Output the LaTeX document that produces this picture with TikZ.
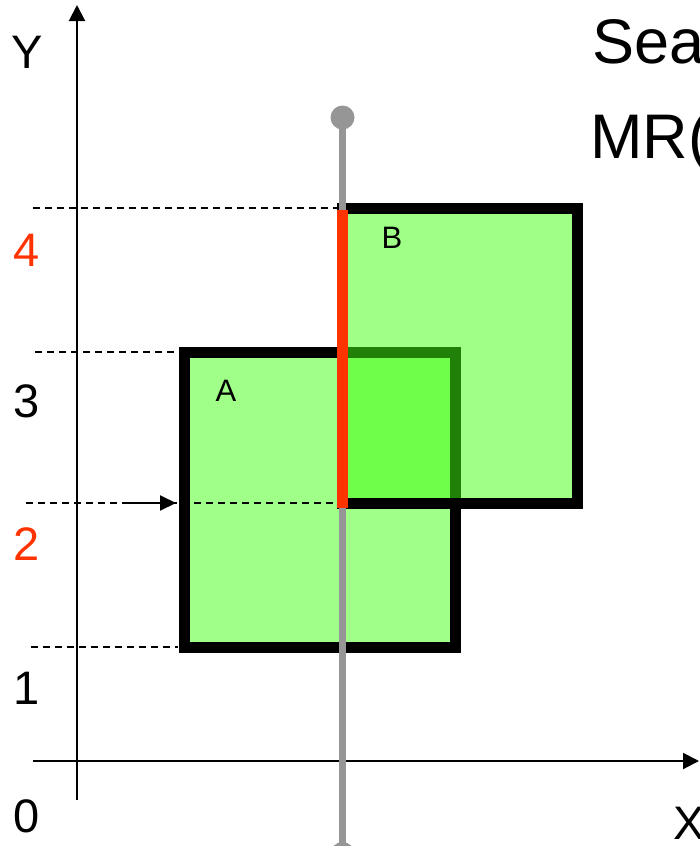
\documentclass[tikz,border=0pt]{standalone}
\usepackage{fontspec}
\setmainfont{Liberation Sans}
\usetikzlibrary{arrows.meta,positioning}
\definecolor{ink}{HTML}{000000}
\definecolor{hit}{HTML}{FF3300}
\definecolor{probe}{HTML}{969696}
\definecolor{rectfill}{HTML}{A0FF88}
\definecolor{overfill}{HTML}{40FF10}
\tikzset{
  axisline/.style={-{Triangle[length=16pt,width=16pt]},line width=2pt,draw=ink},
  guide/.style={dash pattern=on 7pt off 5pt,line width=1.8pt,draw=ink},
  mbr/.style={line width=11pt,draw=ink},
  ticklabel/.style={inner sep=0pt,font=\fontsize{47pt}{47pt}\selectfont},
  rectlabel/.style={inner sep=0pt,font=\fontsize{31pt}{31pt}\selectfont},
  headline/.style={inner sep=0pt,anchor=base west,font=\fontsize{63pt}{63pt}\selectfont}
}
\begin{document}
\begin{tikzpicture}[x=1pt,y=-1pt]
    \useasboundingbox (0,0) rectangle (699,846);
    \clip (0,0) rectangle (699,846);
    \fill[white] (0,0) rectangle (699,846);

    \coordinate (ybot) at (77,800);
    \coordinate (ytop) at (77,5);
    \coordinate (xleft) at (33,761);
    \coordinate (xright) at (699,761);
    \draw[axisline] (ybot) -- (ytop);
    \draw[axisline] (xleft) -- (xright);

    \node[ticklabel] (ylab) at (27.5,52) {Y};
    \node[ticklabel] (xlab) at (689,823) {X};
    \node[ticklabel] (t0) at (27,816.5) {0};
    \node[ticklabel] (t1) at (27,688.5) {1};
    \node[ticklabel,text=hit] (t2) at (26.5,544) {2};
    \node[ticklabel] (t3) at (26.5,401) {3};
    \node[ticklabel,text=hit] (t4) at (26.5,250) {4};

    \node[headline] (sea) at (592,63) {Sea};
    \node[headline] (mr) at (590,158) {MR(};

    % rectangle A
    \coordinate (anw) at (184,352);
    \coordinate (ase) at (455,647);
    \fill[rectfill] (anw) rectangle (ase);
    \draw[guide] (26,503) -- (338,503);
    \draw[guide] (33,208) -- (338,208);
    \draw[guide] (35,352) -- (178,352);
    \draw[guide] (31,647) -- (178,647);
    \draw[mbr] (anw) rectangle (ase);
    \coordinate (qstart) at (125,503);
    \coordinate (qend) at (176,503);
    \draw[-{Triangle[length=16pt,width=15pt]},line width=2pt] (qstart) -- (qend);

    % rectangle B
    \coordinate (bnw) at (342,208.5);
    \coordinate (bse) at (577,503.5);
    \fill[overfill,fill opacity=0.5] (bnw) rectangle (bse);
    \draw[mbr] (bnw) rectangle (bse);

    \node[rectlabel] (alab) at (226,390.5) {A};
    \node[rectlabel] (blab) at (392,237.5) {B};

    % probe line and hit interval
    \coordinate (ptop) at (342.5,117.5);
    \coordinate (pbot) at (342.5,854);
    \draw[probe,line width=7pt] (ptop) -- (pbot);
    \fill[probe] (ptop) circle (12);
    \fill[probe] (pbot) circle (12);
    \coordinate (hlow) at (342.5,508);
    \coordinate (hhigh) at (342.5,210);
    \draw[hit,line width=11pt] (hlow) -- (hhigh);
\end{tikzpicture}
\end{document}
